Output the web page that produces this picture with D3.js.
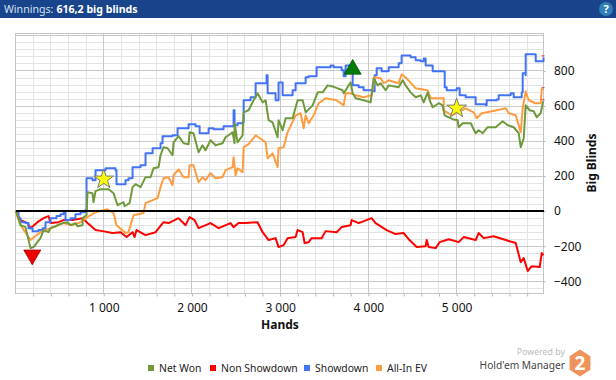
<!DOCTYPE html>
<html><head><meta charset="utf-8">
<script src="https://cdn.jsdelivr.net/npm/d3@7"></script>
<style>html,body{margin:0;padding:0;background:#fff;overflow:hidden}svg{display:block}text{font-family:"Noto Sans",sans-serif}</style>
</head><body><svg id="c" width="616" height="380"></svg>
<script>
const xMajorTicks=[1000,2000,3000,4000,5000];
const yMajorTicks=[-400,-200,0,200,400,600,800];
const seriesNames=["Net Won","Non Showdown","Showdown","All-In EV"];
const seriesColors=["#6f9a3c","#ff0000","#4273f7","#ff9c40"];

const netWonHands=[0,11,57,113,170,204,283,318,374,397,
454,533,590,624,680,703,760,760,805,816,
873,884,907,964,1055,1112,1145,1157,1225,1236,
1293,1327,1361,1418,1474,1531,1565,1622,1644,1678,
1724,1780,1792,1848,1905,1962,1973,2018,2075,2120,
2154,2211,2268,2347,2381,2461,2483,2483,2517,2574,
2586,2642,2699,2744,2801,2835,2869,2914,2971,2982,
3028,3062,3141,3198,3255,3289,3368,3425,3482,3538,
3595,3652,3708,3720,3799,3822,3856,3946,4025,4060,
4105,4139,4196,4230,4343,4388,4422,4479,4536,4593,
4627,4672,4695,4729,4797,4842,4865,4956,5012,5024,
5069,5160,5216,5250,5296,5352,5443,5522,5579,5647,
5704,5727,5761,5783,5829,5874,5908,5953,5976,5985];
const netWonValues=[0,-6,-80,-91,-211,-205,-154,-108,-120,-97,
-86,-68,-63,-80,-68,-86,-80,-40,-23,108,
102,51,114,125,125,102,51,34,51,28,
46,137,154,137,194,194,245,251,319,365,
359,319,393,428,388,382,450,445,336,376,
348,405,376,388,422,450,388,502,393,433,
564,576,633,673,621,633,519,507,422,519,
462,530,530,633,633,564,604,678,678,718,
712,701,690,673,735,673,644,633,621,758,
718,730,690,718,707,747,718,678,650,661,
621,678,633,593,616,604,547,525,519,479,
502,502,445,462,445,479,479,513,490,479,
445,365,416,604,576,570,536,559,616,627];

const nonShowdownHands=[0,11,57,136,170,249,318,374,397,488,
544,646,760,816,907,986,1100,1191,1259,1327,
1350,1372,1474,1588,1678,1735,1848,1928,1973,2030,
2075,2211,2302,2438,2472,2529,2608,2744,2801,2869,
2948,2982,3039,3084,3175,3198,3255,3277,3323,3357,
3470,3515,3640,3697,3799,3810,3889,4037,4082,4207,
4309,4400,4457,4547,4649,4661,4683,4763,4808,4910,
5024,5080,5216,5250,5307,5420,5557,5670,5727,5761,
5806,5851,5942,5965,5985];
const nonShowdownValues=[0,-6,-51,-68,-97,-63,-40,-28,-68,-63,
-51,-51,-40,-68,-108,-114,-125,-120,-148,-120,
-148,-108,-137,-120,-63,-68,-40,-80,-34,-51,
-97,-68,-97,-68,-91,-68,-68,-63,-120,-165,
-154,-205,-194,-154,-148,-108,-120,-182,-177,-154,
-154,-114,-120,-91,-80,-51,-68,-40,-68,-108,
-131,-125,-160,-205,-200,-165,-205,-211,-177,-160,
-177,-148,-165,-125,-154,-143,-165,-182,-291,-268,
-342,-314,-319,-239,-251];

const showdownHands=[0,34,57,113,147,193,261,306,340,397,
465,510,544,567,624,680,737,794,805,873,
907,1021,1134,1145,1236,1247,1281,1327,1418,1474,
1554,1644,1667,1780,1837,1962,2041,2087,2189,2245,
2359,2472,2472,2483,2517,2574,2586,2665,2722,2835,
2846,2858,2914,2948,2982,3028,3084,3141,3175,3289,
3323,3413,3572,3606,3697,3720,3742,3822,3890,3946,
4060,4071,4094,4150,4207,4230,4343,4377,4479,4536,
4593,4627,4649,4717,4729,4831,4865,4888,5001,5035,
5103,5194,5216,5330,5341,5454,5477,5557,5613,5647,
5738,5749,5783,5783,5885,5897,5976,5985];
const showdownValues=[0,-40,-63,-68,-97,-114,-108,-97,-63,-40,
-28,-17,-11,-51,-40,-17,-6,6,188,177,
234,245,234,154,154,177,188,251,262,331,
359,388,428,433,473,496,485,445,473,467,
485,519,576,490,502,507,633,650,730,730,
775,673,673,633,735,661,661,690,730,764,
770,821,832,821,804,770,832,718,707,690,
684,775,815,798,798,821,844,889,878,861,
855,872,832,832,798,798,707,690,701,661,
650,650,610,604,633,638,661,661,673,650,
678,787,775,895,895,855,855,878];

const allInHands=[0,57,170,283,397,544,
646,737,816,907,1043,1112,1145,1247,1281,1338,
1452,1474,1610,1644,1678,1735,1780,1792,1848,1905,
1962,1973,2018,2075,2120,2154,2211,2268,2347,2381,
2461,2472,2495,2517,2574,2586,2642,2722,2835,2858,
2914,2971,2982,3039,3084,3175,3232,3266,3289,3323,
3380,3436,3515,3640,3720,3742,3799,3856,3946,4037,
4071,4139,4173,4230,4343,4377,4434,4536,4604,4672,
4706,4774,4854,4854,4945,5103,5194,5228,5285,5454,
5557,5591,5670,5727,5749,5783,5817,5897,5953,5965,
5985];
const allInValues=[0,-80,-165,-120,-97,-68,
-80,-63,-34,-6,11,-11,-80,-125,-120,-23,
-11,46,74,137,188,194,148,205,239,194,
194,262,262,165,194,177,217,188,194,234,
251,308,205,245,222,365,382,433,393,302,
330,251,359,365,450,547,559,473,547,502,
547,616,644,633,604,673,673,661,650,661,
764,758,730,747,730,781,758,701,696,690,
644,644,644,576,547,587,564,530,559,576,
587,559,547,450,587,684,633,616,616,696,
696];

const starHands=[1000,5000], starValues=[182,587];
const minHand=[190], minValue=[-250];
const maxHand=[3822], maxValue=[810];

const svg=d3.select("#c");
const x=d3.scaleLinear().domain([0,5985]).range([15.5,543.5]);
const y=d3.scaleLinear().domain([-470,1014]).range([293.5,33.5]);
const P={l:15.5,r:543.5,t:33.5,b:293.5};

// header
svg.append("rect").attr("width",616).attr("height",18).attr("fill","#17448a");
const ht=svg.append("text").attr("x",4).attr("y",13).attr("font-size",10.6).attr("fill","#d6e2f2").text("Winnings:");
ht.append("tspan").attr("dx",3).attr("font-weight","bold").attr("fill","#fff").text("616,2 big blinds");
svg.append("circle").attr("cx",606).attr("cy",9).attr("r",7).attr("fill","#2f80b8");
svg.append("text").attr("x",606).attr("y",13).attr("text-anchor","middle").attr("font-size",11).attr("font-weight","bold").attr("fill","#fff").text("?");

// grid
const g=svg.append("g").attr("shape-rendering","crispEdges");
const minorX=d3.range(200,6000,200).filter(v=>v%1000);
const minorY=d3.range(-440,1014,40).filter(v=>v%200);
g.selectAll(".mx").data(minorX).join("line").attr("x1",x).attr("x2",x).attr("y1",P.t).attr("y2",P.b).attr("stroke","#e4e4e4");
g.selectAll(".my").data(minorY).join("line").attr("y1",y).attr("y2",y).attr("x1",P.l).attr("x2",P.r).attr("stroke","#e4e4e4");
g.selectAll(".Mx").data(xMajorTicks).join("line").attr("x1",x).attr("x2",x).attr("y1",P.t).attr("y2",P.b).attr("stroke","#c8c8c8");
g.selectAll(".My").data(yMajorTicks.concat([1000])).join("line").attr("y1",y).attr("y2",y).attr("x1",P.l).attr("x2",P.r).attr("stroke","#c8c8c8");
g.append("rect").attr("x",P.l).attr("y",P.t).attr("width",P.r-P.l).attr("height",P.b-P.t).attr("fill","none").attr("stroke","#c4c4c4");

// axes
const xAxis=d3.axisBottom(x).tickValues(d3.range(200,6000,200)).tickSize(3).tickFormat(d=>xMajorTicks.includes(d)?d3.format(",")(d).replace(",","\u00a0"):"");
const ax=svg.append("g").attr("transform",`translate(0,${P.b})`).call(xAxis);
ax.select(".domain").remove();ax.selectAll("line").attr("stroke","#b8b8b8");
ax.selectAll("text").attr("font-size",12).attr("fill","#111").attr("y",10);
const yAxis=d3.axisRight(y).tickValues(yMajorTicks).tickSize(2).tickFormat(d3.format("d"));
const ay=svg.append("g").attr("transform",`translate(${P.r},0)`).call(yAxis);
ay.select(".domain").remove();ay.selectAll("line").attr("stroke","#b8b8b8");
ay.selectAll("text").attr("font-size",12).attr("fill","#111").attr("x",10.5);
svg.append("text").attr("x",280).attr("y",329).attr("text-anchor","middle").attr("font-size",12).attr("font-weight","bold").attr("fill","#111").text("Hands");
svg.append("text").attr("transform","translate(596,163) rotate(-90)").attr("text-anchor","middle").attr("font-size",12).attr("font-weight","bold").attr("fill","#111").text("Big Blinds");

// lines
const lin=d3.line().x(d=>x(d[0])).y(d=>y(d[1]));
const stp=d3.line().x(d=>x(d[0])).y(d=>y(d[1])).curve(d3.curveStepAfter);
const draw=(hs,vs,gen,i)=>svg.append("path").attr("d",gen(d3.zip(hs,vs))).attr("fill","none").attr("stroke",seriesColors[i]).attr("stroke-width",2).attr("stroke-linejoin","round");
draw(nonShowdownHands,nonShowdownValues,lin,1);
draw(showdownHands,showdownValues,stp,2);
draw(allInHands,allInValues,lin,3);
draw(netWonHands,netWonValues,lin,0);

// end dots
[showdownValues,allInValues,netWonValues].forEach(v=>{
  svg.append("rect").attr("x",x(5985)-2).attr("y",y(v[v.length-1])-2).attr("width",3).attr("height",1).attr("fill","#e03030");
});

// zero line
svg.append("line").attr("x1",P.l).attr("x2",P.r).attr("y1",y(0)).attr("y2",y(0)).attr("stroke","#000").attr("stroke-width",2).attr("shape-rendering","crispEdges");

// markers
const sym=(t,s)=>d3.symbol().type(t).size(s)();
starHands.forEach((h,i)=>svg.append("path").attr("d",sym(d3.symbolStar,120)).attr("transform",`translate(${x(h)},${y(starValues[i])})`).attr("fill","#ffff00").attr("stroke","#777").attr("stroke-width",1));
svg.append("path").attr("d",sym(d3.symbolTriangle,125)).attr("transform",`translate(${x(minHand[0])},${y(minValue[0])}) rotate(180)`).attr("fill","#ee0000").attr("stroke","#a00000").attr("stroke-width",.8);
svg.append("path").attr("d",sym(d3.symbolTriangle,125)).attr("transform",`translate(${x(maxHand[0])},${y(maxValue[0])})`).attr("fill","#047a04").attr("stroke","#035a03").attr("stroke-width",.8);

// legend
const legendX=[148,210,304,376];
const lg=svg.append("g");
seriesNames.forEach((n,i)=>{
  lg.append("rect").attr("x",legendX[i]).attr("y",365).attr("width",6).attr("height",6).attr("fill",seriesColors[i]);
  lg.append("text").attr("x",legendX[i]+11).attr("y",372).attr("font-size",10.4).attr("fill","#222").text(n);
});

// logo
svg.append("text").attr("x",565).attr("y",355).attr("text-anchor","end").attr("font-size",8.8).attr("fill","#bbb").text("Powered by");
svg.append("text").attr("x",565).attr("y",369).attr("text-anchor","end").attr("font-size",10.2).attr("fill","#444").text("Hold'em Manager");
const hex=d3.range(6).map(i=>{const a=Math.PI/3*i+Math.PI/6;return [580+12*Math.cos(a),363+13.5*Math.sin(a)]});
svg.append("path").attr("d",d3.line()(hex)+"Z").attr("fill","#f0935a");
svg.append("text").attr("x",580).attr("y",370).attr("text-anchor","middle").attr("font-size",19).attr("font-weight","bold").attr("fill","#fff").text("2");
</script></body></html>
